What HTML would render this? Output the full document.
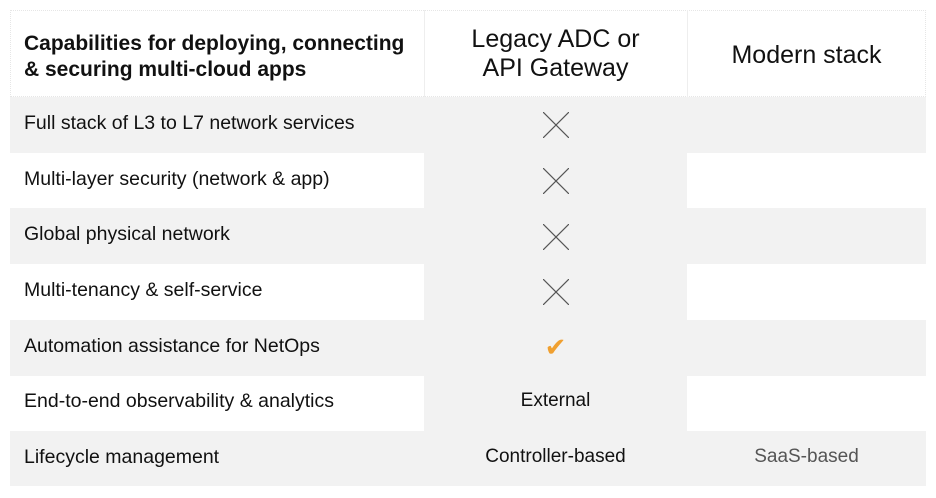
<!DOCTYPE html>
<html><head><style>
body{margin:0;width:936px;height:498px;background:#fff;font-family:"Liberation Sans",Arial,sans-serif;position:relative;overflow:hidden}
.c{position:absolute;box-sizing:border-box}
.g{background:#f2f2f2}
.t{position:absolute;color:#111;font-size:19.5px;left:24px}
.m{position:absolute;text-align:center;color:#111}
.x{position:absolute;left:543px;width:26px;height:26px}
</style></head><body>
<div class="c" style="left:10px;top:10px;width:916px;height:87px;border:1px dotted #e6e6e6"></div>
<div class="c" style="left:424px;top:10px;width:1px;height:87px;background:#eee"></div>
<div class="c" style="left:687px;top:10px;width:1px;height:87px;background:#eee"></div>
<div class="c g" style="left:10px;top:97px;width:916px;height:56px"></div>
<div class="c g" style="left:10px;top:208px;width:916px;height:56px"></div>
<div class="c g" style="left:10px;top:320px;width:916px;height:56px"></div>
<div class="c g" style="left:10px;top:431px;width:916px;height:55px"></div>
<div class="c g" style="left:424px;top:97px;width:263px;height:389px"></div>
<div style="position:absolute;left:24px;top:31px;font-weight:bold;font-size:21px;line-height:26px;color:#111">Capabilities for deploying, connecting<br>&amp; securing multi-cloud apps</div>
<div class="m" style="left:424px;width:263px;top:25px;font-size:25px;line-height:29px">Legacy ADC or<br>API Gateway</div>
<div class="m" style="left:687px;width:239px;top:41px;font-size:25px">Modern stack</div>
<div class="t" style="top:112px">Full stack of L3 to L7 network services</div>
<div class="t" style="top:168px">Multi-layer security (network &amp; app)</div>
<div class="t" style="top:223px">Global physical network</div>
<div class="t" style="top:279px">Multi-tenancy &amp; self-service</div>
<div class="t" style="top:335px">Automation assistance for NetOps</div>
<div class="t" style="top:390px">End-to-end observability &amp; analytics</div>
<div class="t" style="top:446px">Lifecycle management</div>
<svg class="x" style="top:112px" viewBox="0 0 26 26"><path d="M0 0L26 26M26 0L0 26" stroke="#555" stroke-width="1.2"/></svg>
<svg class="x" style="top:168px" viewBox="0 0 26 26"><path d="M0 0L26 26M26 0L0 26" stroke="#555" stroke-width="1.2"/></svg>
<svg class="x" style="top:224px" viewBox="0 0 26 26"><path d="M0 0L26 26M26 0L0 26" stroke="#555" stroke-width="1.2"/></svg>
<svg class="x" style="top:279px" viewBox="0 0 26 26"><path d="M0 0L26 26M26 0L0 26" stroke="#555" stroke-width="1.2"/></svg>
<div class="m" style="left:424px;width:263px;top:332px;font-size:26px;color:#f0a030">✔</div>
<div class="m" style="left:424px;width:263px;top:390px;font-size:19px">External</div>
<div class="m" style="left:424px;width:263px;top:446px;font-size:19px">Controller-based</div>
<div class="m" style="left:687px;width:239px;top:446px;font-size:19px;color:#555">SaaS-based</div>
</body></html>
